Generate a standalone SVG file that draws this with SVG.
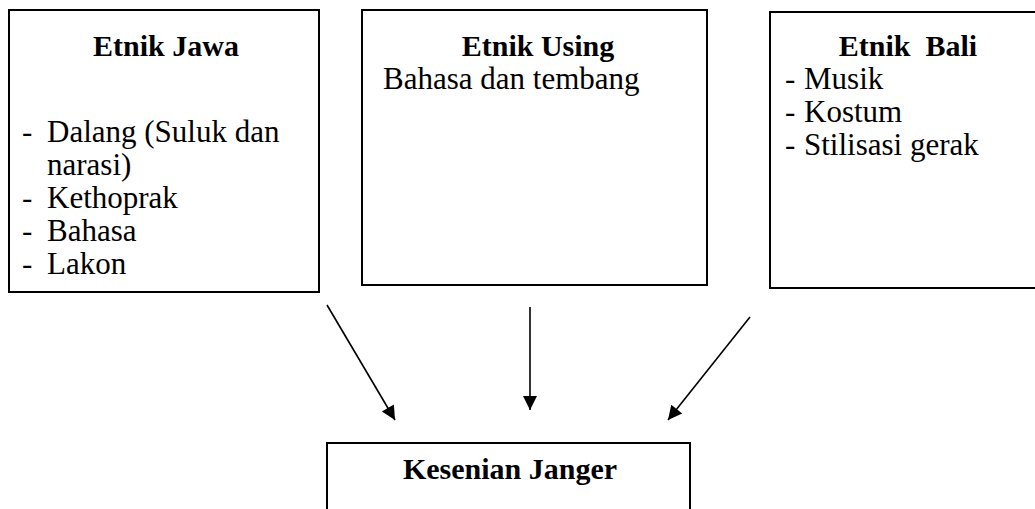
<svg xmlns="http://www.w3.org/2000/svg" width="1035" height="509" viewBox="0 0 1035 509">
<style>
.box{fill:#fff;stroke:#000;stroke-width:2}
.t{font-family:"Liberation Serif","Times New Roman",serif;font-size:31px;fill:#000}
.b{font-family:"Liberation Serif","Times New Roman",serif;font-size:30px;font-weight:bold;fill:#000;white-space:pre}
.c{stroke:#000;stroke-width:1.6;fill:none}
</style>
<defs>
<marker id="ah" viewBox="0 0 10 10" refX="10" refY="5" markerWidth="17" markerHeight="14" markerUnits="userSpaceOnUse" orient="auto">
<path d="M0,0 L10,5 L0,10 Z" fill="#000"/>
</marker>
</defs>
<rect width="1035" height="509" fill="#fff"/>
<g id="jawa">
<rect class="box" x="9" y="10" width="310" height="282"/>
<text class="b" x="166" y="56" text-anchor="middle">Etnik Jawa</text>
<text class="t" x="22" y="142">-</text><text class="t" x="47" y="142">Dalang (Suluk dan</text>
<text class="t" x="47" y="175">narasi)</text>
<text class="t" x="22" y="208">-</text><text class="t" x="47" y="208">Kethoprak</text>
<text class="t" x="22" y="241">-</text><text class="t" x="47" y="241">Bahasa</text>
<text class="t" x="22" y="274">-</text><text class="t" x="47" y="274">Lakon</text>
</g>
<g id="using">
<rect class="box" x="362" y="10" width="345" height="275"/>
<text class="b" x="538" y="56" text-anchor="middle">Etnik Using</text>
<text class="t" x="383" y="89">Bahasa dan tembang</text>
</g>
<g id="bali">
<rect class="box" x="770" y="12" width="280" height="276"/>
<text class="b" x="908" y="56" text-anchor="middle" xml:space="preserve">Etnik  Bali</text>
<text class="t" x="785" y="89">-</text><text class="t" x="804" y="89">Musik</text>
<text class="t" x="785" y="122">-</text><text class="t" x="804" y="122">Kostum</text>
<text class="t" x="785" y="155">-</text><text class="t" x="804" y="155">Stilisasi gerak</text>
</g>
<g id="janger">
<rect class="box" x="327" y="443" width="363" height="80"/>
<text class="b" x="510" y="479" text-anchor="middle">Kesenian Janger</text>
</g>
<g id="connectors">
<line class="c" x1="327" y1="305" x2="395" y2="420" marker-end="url(#ah)"/>
<line class="c" x1="530" y1="307" x2="530" y2="410" marker-end="url(#ah)"/>
<line class="c" x1="750" y1="317" x2="668" y2="420" marker-end="url(#ah)"/>
</g>
</svg>
